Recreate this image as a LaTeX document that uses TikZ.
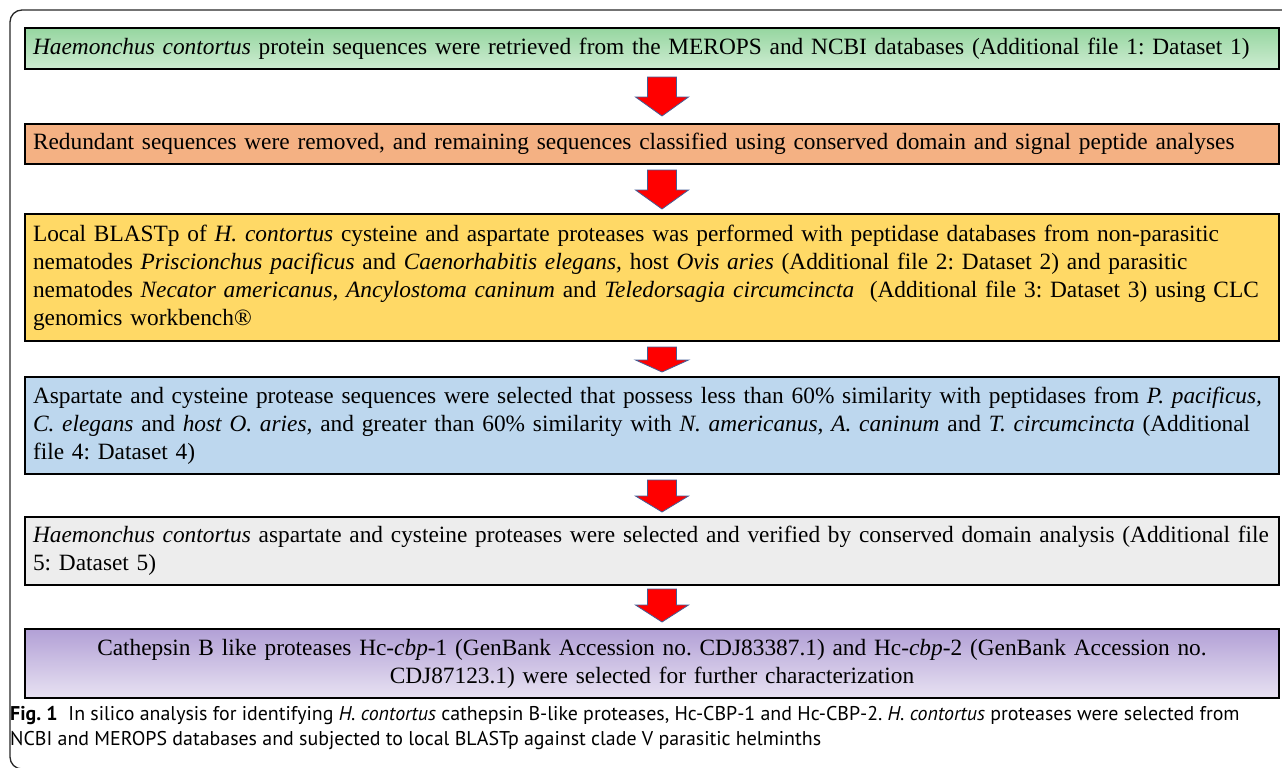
\documentclass[tikz,border=0pt]{standalone}
\usepackage{fontspec}
\setmainfont{Liberation Serif}
\newfontfamily\capfont{PT Sans}
\frenchspacing
\definecolor{orangebox}{RGB}{244,177,131}
\definecolor{goldbox}{RGB}{255,217,102}
\definecolor{bluebox}{RGB}{189,215,238}
\definecolor{graybox}{RGB}{237,237,237}
\definecolor{greentop}{RGB}{150,214,160}
\definecolor{greenbot}{RGB}{206,236,210}
\definecolor{purptop}{RGB}{178,160,214}
\definecolor{purpbot}{RGB}{232,226,242}
\definecolor{arrowedge}{RGB}{68,94,150}
\definecolor{framecol}{RGB}{40,40,40}
\tikzset{
  stepbox/.style={draw=black, line width=2.4pt, anchor=north west, outer sep=0pt,
    inner xsep=8pt, inner ysep=4pt, minimum width=1254pt, text width=1238pt,
    align=left, font=\frenchspacing\fontsize{23.35}{28}\selectfont},
  redarr/.style={fill=red, draw=arrowedge, line width=0.8pt, line join=miter},
  captext/.style={anchor=base west, inner sep=0pt, font=\capfont\fontsize{19.9}{25}\selectfont},
}
\newcommand{\redarrow}[3]{%
  \draw[redarr] (647.5,#1) -- (676.5,#1) -- (676.5,#2) -- (688.5,#2) -- (662,#3)
    -- (635.5,#2) -- (647.5,#2) -- cycle;}
\begin{document}
\begin{tikzpicture}[x=1pt,y=-1pt]
\useasboundingbox (0,0) rectangle (1282,768);
\clip (0,0) rectangle (1282,768);
\draw[framecol, line width=1.3pt, rounded corners=12pt] (10,10) rectangle (1310,769);

\node[stepbox, top color=greentop, bottom color=greenbot, minimum height=41pt] (b1) at (25,28)
  {\textit{Haemonchus contortus} protein sequences were retrieved from the MEROPS and NCBI databases (Additional file 1: Dataset 1)};
\node[stepbox, fill=orangebox, minimum height=40pt] (b2) at (25,124)
  {Redundant sequences were removed, and remaining sequences classified using conserved domain and signal peptide analyses};
\node[stepbox, fill=goldbox, minimum height=127pt] (b3) at (25,214)
  {Local BLASTp of \textit{H. contortus} cysteine and aspartate proteases was performed with peptidase databases from non-parasitic\\
   nematodes \textit{Priscionchus pacificus} and \textit{Caenorhabitis elegans,} host \textit{Ovis aries} (Additional file 2: Dataset 2) and parasitic\\
   nematodes \textit{Necator americanus, Ancylostoma caninum} and \textit{Teledorsagia circumcincta}\ \ (Additional file 3: Dataset 3) using CLC\\
   genomics workbench®};
\node[stepbox, fill=bluebox, minimum height=97pt] (b4) at (25,377)
  {Aspartate and cysteine protease sequences were selected that possess less than 60\% similarity with peptidases from \textit{P. pacificus,}\\
   \textit{C. elegans} and \textit{host O. aries,} and greater than 60\% similarity with \textit{N. americanus, A. caninum} and \textit{T. circumcincta} (Additional\\
   file 4: Dataset 4)};
\node[stepbox, fill=graybox, minimum height=68pt] (b5) at (25,517)
  {\textit{Haemonchus contortus} aspartate and cysteine proteases were selected and verified by conserved domain analysis (Additional file\\
   5: Dataset 5)};
\node[stepbox, top color=purptop, bottom color=purpbot, minimum height=69pt, align=center] (b6) at (25,629)
  {Cathepsin B like proteases Hc-\textit{cbp}-1 (GenBank Accession no. CDJ83387.1) and Hc-\textit{cbp}-2 (GenBank Accession no.\\
   CDJ87123.1) were selected for further characterization};

\redarrow{77}{97}{116}
\redarrow{170}{190}{209}
\redarrow{347}{360}{372}
\redarrow{480}{496}{512}
\redarrow{589}{605}{622}

\node[captext] (cap1) at (10,720)
  {\textbf{Fig. 1}\hspace{0.55em}In silico analysis for identifying \textit{H. contortus} cathepsin B-like proteases, Hc-CBP-1 and Hc-CBP-2. \textit{H. contortus} proteases were selected from};
\node[captext] (cap2) at (10,745)
  {NCBI and MEROPS databases and subjected to local BLASTp against clade V parasitic helminths};
\end{tikzpicture}
\end{document}
